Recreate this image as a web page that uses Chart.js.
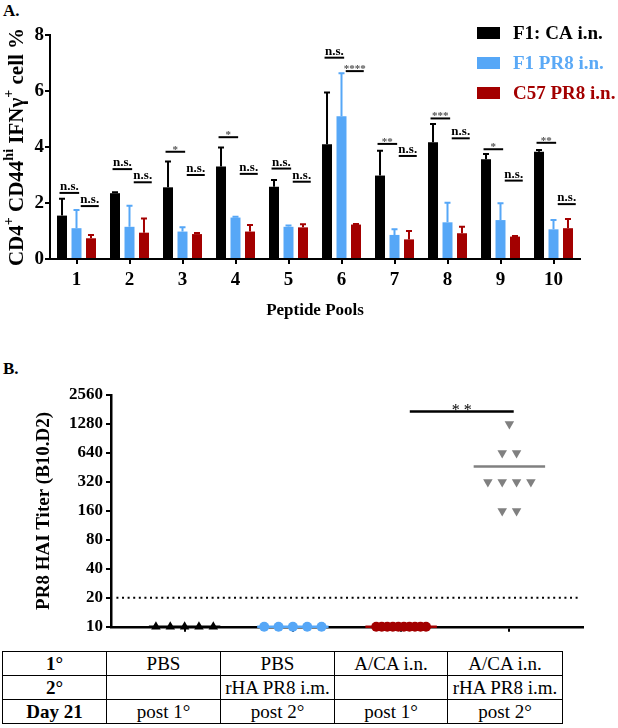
<!DOCTYPE html>
<html>
<head>
<meta charset="utf-8">
<script src="https://cdn.jsdelivr.net/npm/chart.js@4.4.0/dist/chart.umd.min.js"></script>
<style>
body { margin: 0; background: #fff; font-family: "Liberation Serif", "Times New Roman", serif; }
#wrap { position: relative; width: 618px; height: 728px; overflow: hidden; }
.lbl { position: absolute; font-weight: bold; font-size: 17px; }
#cA { position: absolute; left: 0; top: 0; }
#cB { position: absolute; left: 0; top: 340px; }
table { position: absolute; left: 2px; top: 651px; border-collapse: collapse; font-size: 19px; table-layout: fixed; font-family: "Liberation Serif", serif; }
td { border: 1.5px solid #000; height: 23px; line-height: 22px; text-align: center; padding: 0; white-space: nowrap; }
td.h { font-weight: bold; }
</style>
</head>
<body>
<div id="wrap">
  <div class="lbl" style="left:3px;top:1px;">A.</div>
  <canvas id="cA" width="618" height="325"></canvas>
  <div class="lbl" style="left:3px;top:359px;">B.</div>
  <canvas id="cB" width="618" height="300"></canvas>
  <table id="tbl"></table>
</div>
<script>
// ---- panel A data ----
var pools = ['1', '2', '3', '4', '5', '6', '7', '8', '9', '10'];
var caMean  = [1.55, 2.35, 2.56, 3.30, 2.58, 4.10, 2.98, 4.17, 3.56, 3.83];
var caErr   = [0.60, 0.03, 0.92, 0.68, 0.24, 1.85, 0.89, 0.65, 0.19, 0.06];
var pr8Mean = [1.10, 1.15, 0.98, 1.48, 1.15, 5.10, 0.86, 1.31, 1.39, 1.06];
var pr8Err  = [0.65, 0.75, 0.15, 0.03, 0.05, 1.53, 0.20, 0.70, 0.60, 0.33];
var c57Mean = [0.74, 0.94, 0.89, 0.98, 1.13, 1.23, 0.70, 0.92, 0.80, 1.10];
var c57Err  = [0.12, 0.51, 0.04, 0.23, 0.11, 0.02, 0.30, 0.23, 0.02, 0.33];
var sigLeft   = ['n.s.', 'n.s.', '*', '*', 'n.s.', 'n.s.', '**', '***', '*', '**'];
var sigLeftY  = [2.36, 3.21, 3.83, 4.35, 3.23, 7.19, 4.11, 5.02, 3.92, 4.15];
var sigRight  = ['n.s.', 'n.s.', 'n.s.', 'n.s.', 'n.s.', '****', 'n.s.', 'n.s.', 'n.s.', 'n.s.'];
var sigRightY = [1.89, 2.74, 3.00, 3.04, 2.76, 6.71, 3.68, 4.31, 2.80, 1.96];

// ---- panel B data ----
var titerPBS1 = [10, 10, 10, 10, 10];
var titerPBS2 = [10, 10, 10, 10, 10];
var titerCA1  = [10, 10, 10, 10, 10, 10, 10, 10, 10, 10];
var titerCA2  = [1280, 640, 640, 320, 320, 320, 320, 160, 160];
var titerTicks = [10, 20, 40, 80, 160, 320, 640, 1280, 2560];
var haiLimit = 20;
var sigB = '**';
var sigBY = 1720;

// ---- table ----
var rowPrimary   = ['1°', 'PBS', 'PBS', 'A/CA i.n.', 'A/CA i.n.'];
var rowSecondary = ['2°', '', 'rHA PR8 i.m.', '', 'rHA PR8 i.m.'];
var rowDay       = ['Day 21', 'post 1°', 'post 2°', 'post 1°', 'post 2°'];

var FONT = '"Liberation Serif", "Times New Roman", serif';
var BLUE = '#56a7f7';
var RED = '#a30000';

// build table
var colW = [103, 113, 113, 112, 114];
var tbl = document.getElementById('tbl');
[rowPrimary, rowSecondary, rowDay].forEach(function (row) {
  var tr = document.createElement('tr');
  row.forEach(function (t, i) {
    var td = document.createElement('td');
    td.textContent = t;
    td.style.width = colW[i] + 'px';
    if (i == 0) td.className = 'h';
    tr.appendChild(td);
  });
  tbl.appendChild(tr);
});

// ---------------- panel A ----------------
var errA = [caErr, pr8Err, c57Err];
var meanA = [caMean, pr8Mean, c57Mean];

var panelAPlugin = {
  id: 'panelA',
  afterDatasetsDraw: function (chart) {
    var ctx = chart.ctx, y = chart.scales.y, x = chart.scales.x;
    ctx.save();
    // error bars (upper only)
    chart.data.datasets.forEach(function (ds, d) {
      var meta = chart.getDatasetMeta(d);
      meta.data.forEach(function (bar, i) {
        var top = y.getPixelForValue(meanA[d][i] + errA[d][i]);
        ctx.strokeStyle = ds.backgroundColor;
        ctx.lineWidth = 2;
        ctx.beginPath();
        ctx.moveTo(bar.x, bar.y);
        ctx.lineTo(bar.x, top);
        ctx.moveTo(bar.x - 3, top);
        ctx.lineTo(bar.x + 3, top);
        ctx.stroke();
      });
    });
    // significance marks
    var cw = x.width / pools.length;
    function mark(i, txt, val, f0, f1) {
      var cx = x.getPixelForValue(i);
      var x0 = cx + f0 * cw, x1 = cx + f1 * cw, yy = y.getPixelForValue(val);
      ctx.strokeStyle = '#000';
      ctx.lineWidth = 2;
      ctx.beginPath();
      ctx.moveTo(x0, yy);
      ctx.lineTo(x1, yy);
      ctx.stroke();
      ctx.textAlign = 'center';
      ctx.textBaseline = 'alphabetic';
      if (txt == 'n.s.') {
        ctx.fillStyle = '#000';
        ctx.font = 'bold 13px ' + FONT;
        ctx.fillText(txt, (x0 + x1) / 2, yy - 3);
      } else {
        ctx.fillStyle = '#555';
        ctx.font = 'bold 11px ' + FONT;
        ctx.fillText(txt, (x0 + x1) / 2, yy + 1);
      }
    }
    for (var i = 0; i < pools.length; i++) {
      mark(i, sigLeft[i], sigLeftY[i], -0.32, 0.05);
      mark(i, sigRight[i], sigRightY[i], 0.08, 0.42);
    }
    // legend
    var legCol = ['#000', '#5aa9f6', RED];
    chart.data.datasets.forEach(function (ds, d) {
      var ly = 33 + d * 30;
      ctx.fillStyle = ds.backgroundColor;
      ctx.fillRect(477, ly - 6, 23, 12);
      ctx.fillStyle = legCol[d];
      ctx.font = 'bold 19px ' + FONT;
      ctx.textAlign = 'left';
      ctx.textBaseline = 'middle';
      ctx.fillText(ds.label, 513, ly + 1);
    });
    // axis titles
    ctx.fillStyle = '#000';
    ctx.font = 'bold 17px ' + FONT;
    ctx.textAlign = 'center';
    ctx.textBaseline = 'middle';
    ctx.fillText('Peptide Pools', (x.left + x.right) / 2, 311);
    var parts = [['CD4', 0], ['+', 1], [' CD44', 0], ['hi', 1], [' IFNγ', 0], ['+', 1], [' cell %', 0]];
    var big = 'bold 21px ' + FONT, small = 'bold 14px ' + FONT;
    var total = 0;
    parts.forEach(function (p) { ctx.font = p[1] ? small : big; total += ctx.measureText(p[0]).width; });
    ctx.translate(23, (y.top + y.bottom) / 2);
    ctx.rotate(-Math.PI / 2);
    ctx.textAlign = 'left';
    ctx.textBaseline = 'alphabetic';
    var px = -total / 2;
    parts.forEach(function (p) {
      ctx.font = p[1] ? small : big;
      ctx.fillText(p[0], px, p[1] ? -10 : 0);
      px += ctx.measureText(p[0]).width;
    });
    ctx.restore();
  }
};

new Chart(document.getElementById('cA'), {
  type: 'bar',
  data: {
    labels: pools,
    datasets: [
      { label: 'F1: CA i.n.', data: caMean, backgroundColor: '#000' },
      { label: 'F1 PR8 i.n.', data: pr8Mean, backgroundColor: BLUE },
      { label: 'C57 PR8 i.n.', data: c57Mean, backgroundColor: RED }
    ]
  },
  options: {
    responsive: false,
    animation: false,
    categoryPercentage: 0.82,
    barPercentage: 0.69,
    layout: { padding: { top: 35, right: 38, left: 0, bottom: 0 } },
    plugins: { legend: { display: false }, tooltip: { enabled: false } },
    scales: {
      x: {
        grid: { display: true, offset: false, drawOnChartArea: false, drawTicks: true, tickLength: 5, color: '#000', lineWidth: 2 },
        border: { display: true, color: '#000', width: 2 },
        ticks: { color: '#000', padding: 5, font: { family: FONT, size: 19, weight: 'bold' }, maxRotation: 0 },
        afterFit: function (s) { s.height = 66; }
      },
      y: {
        min: 0, max: 8,
        grid: { display: true, drawOnChartArea: false, drawTicks: true, tickLength: 5, color: '#000', lineWidth: 2 },
        border: { display: true, color: '#000', width: 2 },
        ticks: { stepSize: 2, color: '#000', padding: 1, font: { family: FONT, size: 19, weight: 'bold' } },
        afterFit: function (s) { s.width = 50; }
      }
    }
  },
  plugins: [panelAPlugin]
});

// ---------------- panel B ----------------
function spread(vals, g) {
  var counts = {}, seen = {}, pts = [];
  vals.forEach(function (v) { counts[v] = (counts[v] || 0) + 1; });
  vals.forEach(function (v) {
    var n = counts[v];
    var k = seen[v] = (seen[v] === undefined ? 0 : seen[v] + 1);
    var step = n > 6 ? 0.46 / (n - 1) : 0.1325;
    pts.push({ x: g + (k - (n - 1) / 2) * step, y: v });
  });
  return pts;
}
function mean(a) { return a.reduce(function (s, v) { return s + v; }, 0) / a.length; }
function meanLine(a, g, col) {
  var m = mean(a);
  return { type: 'line', data: [{ x: g - 0.33, y: m }, { x: g + 0.33, y: m }], borderColor: col, borderWidth: 2.5, pointRadius: 0, clip: false };
}

var panelBPlugin = {
  id: 'panelB',
  afterDatasetsDraw: function (chart) {
    var ctx = chart.ctx, x = chart.scales.x, y = chart.scales.y;
    ctx.save();
    var x0 = x.getPixelForValue(2.08), x1 = x.getPixelForValue(3.04), yy = y.getPixelForValue(sigBY);
    ctx.strokeStyle = '#000';
    ctx.lineWidth = 2.5;
    ctx.beginPath();
    ctx.moveTo(x0, yy);
    ctx.lineTo(x1, yy);
    ctx.stroke();
    ctx.fillStyle = '#000';
    ctx.font = '16px ' + FONT;
    ctx.textAlign = 'center';
    ctx.textBaseline = 'alphabetic';
    ctx.fillText(sigB.split('').join(' '), (x0 + x1) / 2, yy + 3);
    ctx.font = 'bold 19px ' + FONT;
    ctx.translate(49, (y.top + y.bottom) / 2);
    ctx.rotate(-Math.PI / 2);
    ctx.fillText('PR8 HAI Titer (B10.D2)', 0, 0);
    ctx.restore();
  }
};

new Chart(document.getElementById('cB'), {
  type: 'scatter',
  data: {
    datasets: [
      { data: spread(titerPBS1, 0), pointStyle: 'triangle', pointRadius: 5.5, backgroundColor: '#000', borderColor: '#000', borderWidth: 0, clip: false },
      { data: spread(titerPBS2, 1), pointStyle: 'circle', pointRadius: 5, backgroundColor: BLUE, borderColor: BLUE, borderWidth: 0, clip: false },
      { data: spread(titerCA1, 2), pointStyle: 'circle', pointRadius: 5, backgroundColor: RED, borderColor: RED, borderWidth: 0, clip: false },
      { data: spread(titerCA2, 3), pointStyle: 'triangle', rotation: 180, pointRadius: 5.5, backgroundColor: '#808080', borderColor: '#808080', borderWidth: 0, clip: false },
      meanLine(titerPBS1, 0, '#000'),
      meanLine(titerPBS2, 1, BLUE),
      meanLine(titerCA1, 2, RED),
      meanLine(titerCA2, 3, '#808080'),
      { type: 'line', data: [{ x: -0.63, y: haiLimit }, { x: 3.63, y: haiLimit }], borderColor: '#000', borderWidth: 2, borderDash: [2, 3.6], pointRadius: 0, clip: false }
    ]
  },
  options: {
    responsive: false,
    animation: false,
    layout: { padding: { top: 55, right: 35, left: 0, bottom: 0 } },
    plugins: { legend: { display: false }, tooltip: { enabled: false } },
    scales: {
      x: {
        type: 'linear', min: -0.68, max: 3.68,
        afterBuildTicks: function (s) { s.ticks = [0, 1, 2, 3].map(function (v) { return { value: v }; }); },
        grid: { display: true, drawOnChartArea: false, drawTicks: true, tickLength: 5, color: '#000', lineWidth: 2 },
        border: { display: true, color: '#000', width: 2.5 },
        ticks: { display: false },
        afterFit: function (s) { s.height = 10; }
      },
      y: {
        type: 'logarithmic', min: 10, max: 2560,
        afterBuildTicks: function (s) { s.ticks = titerTicks.map(function (v) { return { value: v }; }); },
        grid: { display: true, drawOnChartArea: false, drawTicks: true, tickLength: 5, color: '#000', lineWidth: 2 },
        border: { display: true, color: '#000', width: 2.5 },
        ticks: { color: '#000', padding: 3, font: { family: FONT, size: 17, weight: 'bold' }, callback: function (v) { return String(v); } },
        afterFit: function (s) { s.width = 111; }
      }
    }
  },
  plugins: [panelBPlugin]
});
</script>
</body>
</html>
